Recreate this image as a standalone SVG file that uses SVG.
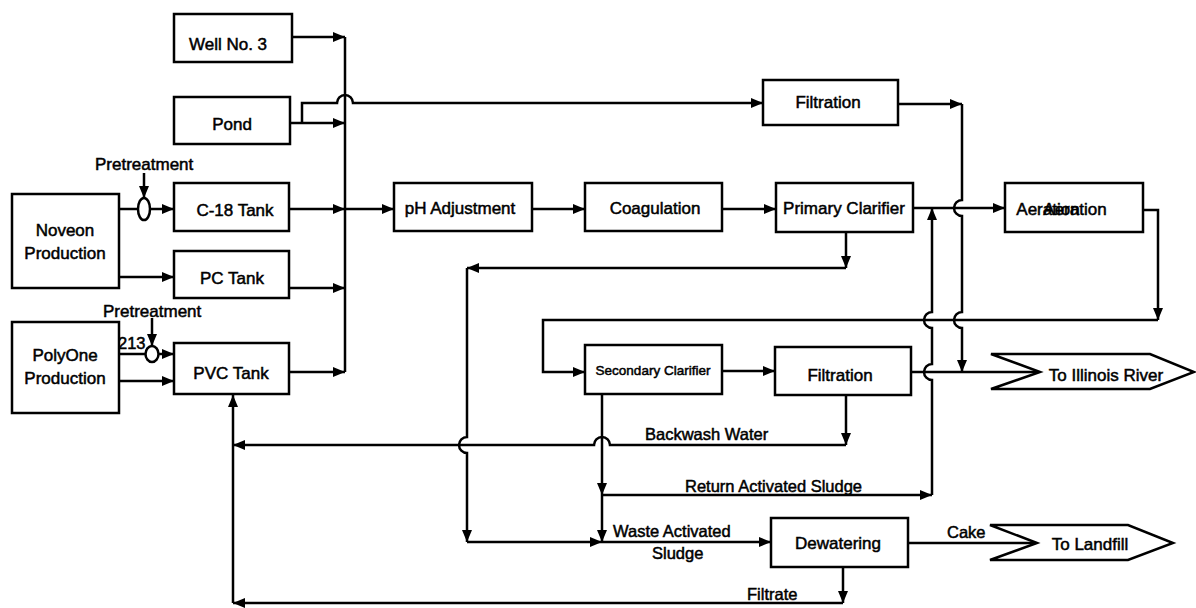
<svg xmlns="http://www.w3.org/2000/svg" width="1196" height="608" viewBox="0 0 1196 608">
<style>
.bx{fill:#fff;stroke:#000;stroke-width:2.5}
.ln{fill:none;stroke:#000;stroke-width:2.5}
.t{font-family:"Liberation Sans",Arial,sans-serif;font-size:17px;fill:#000;text-anchor:middle;stroke:#000;stroke-width:0.5}
.l{font-family:"Liberation Sans",Arial,sans-serif;font-size:16.5px;fill:#000;stroke:#000;stroke-width:0.5}
</style>
<defs>
<marker id="a" markerWidth="12" markerHeight="10" refX="12" refY="5" orient="auto" markerUnits="userSpaceOnUse"><path d="M0,0 L12,5 L0,10 z" fill="#000"/></marker>
</defs>
<rect width="1196" height="608" fill="#fff"/>
<g id="connectors" class="ln">
<path d="M292,37 H345" marker-end="url(#a)"/>
<path d="M345,37 V372"/>
<path d="M290,123 H345" marker-end="url(#a)"/>
<path d="M302,123 V103 H337 A8,8 0 0 1 353,103 H763" marker-end="url(#a)"/>
<path d="M119,209 H138"/>
<path d="M150,209 H174" marker-end="url(#a)"/>
<path d="M144,173 V198" marker-end="url(#a)"/>
<path d="M289,209 H345" marker-end="url(#a)"/>
<path d="M345,209 H394" marker-end="url(#a)"/>
<path d="M119,277 H174" marker-end="url(#a)"/>
<path d="M289,288 H345" marker-end="url(#a)"/>
<path d="M119,354 H146"/>
<path d="M159,354 H174" marker-end="url(#a)"/>
<path d="M152,318 V346" marker-end="url(#a)"/>
<path d="M119,381 H174" marker-end="url(#a)"/>
<path d="M289,372 H345" marker-end="url(#a)"/>
<path d="M532,209 H585" marker-end="url(#a)"/>
<path d="M722,209 H776" marker-end="url(#a)"/>
<path d="M913,208 H1005" marker-end="url(#a)"/>
<path d="M898,104 H962" marker-end="url(#a)"/>
<path d="M962,104 V200 A8,8 0 0 0 962,216 V312 A8,8 0 0 0 962,328 V372" marker-end="url(#a)"/>
<path d="M1143,210 H1158 V320" marker-end="url(#a)"/>
<path d="M1158,320 H543 V372 H585" marker-end="url(#a)"/>
<path d="M722,371 H775" marker-end="url(#a)"/>
<path d="M911,372 H1040"/>
<path d="M602,495 H932" marker-end="url(#a)"/>
<path d="M932,495 V380 A8,8 0 0 1 932,364 V328 A8,8 0 0 1 932,312 V208" marker-end="url(#a)"/>
<path d="M846,232 V268" marker-end="url(#a)"/>
<path d="M846,268 H467" marker-end="url(#a)"/>
<path d="M467,268 V437 A8,8 0 0 0 467,453 V542" marker-end="url(#a)"/>
<path d="M467,542 H602" marker-end="url(#a)"/>
<path d="M602,394 V495" marker-end="url(#a)"/>
<path d="M602,495 V542" marker-end="url(#a)"/>
<path d="M602,542 H771" marker-end="url(#a)"/>
<path d="M846,395 V445" marker-end="url(#a)"/>
<path d="M846,445 H610 A8,8 0 0 0 594,445 H233" marker-end="url(#a)"/>
<path d="M908,543 H1037"/>
<path d="M843,567 V603" marker-end="url(#a)"/>
<path d="M843,603 H233" marker-end="url(#a)"/>
<path d="M233,603 V395" marker-end="url(#a)"/>
<ellipse cx="144" cy="209" rx="6" ry="11"/>
<ellipse cx="152" cy="354" rx="6.5" ry="8"/>
</g>
<g id="well"><rect class="bx" x="174" y="14" width="118" height="48"/><text class="t" x="228" y="50">Well No. 3</text></g>
<g id="pond"><rect class="bx" x="174" y="97" width="116" height="47"/><text class="t" x="232" y="130">Pond</text></g>
<g id="noveon"><rect class="bx" x="12" y="194" width="107" height="94"/><text class="t" x="65" y="236">Noveon</text><text class="t" x="65" y="259">Production</text></g>
<g id="c18"><rect class="bx" x="174" y="183" width="115" height="48"/><text class="t" x="235" y="216">C-18 Tank</text></g>
<g id="pc"><rect class="bx" x="174" y="251" width="115" height="47"/><text class="t" x="232" y="284">PC Tank</text></g>
<g id="polyone"><rect class="bx" x="12" y="322" width="107" height="91"/><text class="t" x="65" y="361">PolyOne</text><text class="t" x="65" y="384">Production</text></g>
<g id="pvc"><rect class="bx" x="174" y="343" width="115" height="51"/><text class="t" x="231" y="379">PVC Tank</text></g>
<g id="ph"><rect class="bx" x="394" y="183" width="138" height="48"/><text class="t" x="460" y="214">pH Adjustment</text></g>
<g id="coag"><rect class="bx" x="585" y="183" width="137" height="48"/><text class="t" x="655" y="214">Coagulation</text></g>
<g id="primary"><rect class="bx" x="776" y="183" width="137" height="49"/><text class="t" x="844" y="214">Primary Clarifier</text></g>
<g id="filtration1"><rect class="bx" x="763" y="80" width="135" height="45"/><text class="t" x="828" y="108">Filtration</text></g>
<g id="aeration"><rect class="bx" x="1005" y="183" width="138" height="49"/><text class="t" x="1048" y="215">Aeration</text><text class="t" x="1075" y="215">Aeration</text></g>
<g id="secondary"><rect class="bx" x="585" y="345" width="137" height="49"/><text class="t" x="653" y="375" style="font-size:13.5px">Secondary Clarifier</text></g>
<g id="filtration2"><rect class="bx" x="775" y="347" width="136" height="48"/><text class="t" x="840" y="381">Filtration</text></g>
<g id="dewatering"><rect class="bx" x="771" y="518" width="137" height="49"/><text class="t" x="838" y="549">Dewatering</text></g>
<g id="river"><polygon class="bx" points="991,354 1150,354 1194,372 1150,389 991,389 1040,372"/><text class="t" x="1106" y="381">To Illinois River</text></g>
<g id="landfill"><polygon class="bx" points="990,525 1128,525 1173,543 1128,560 990,560 1037,543"/><text class="t" x="1090" y="550">To Landfill</text></g>
<g id="labels">
<text class="l" x="95" y="170" style="font-size:17px">Pretreatment</text>
<text class="l" x="103" y="317" style="font-size:17px">Pretreatment</text>
<text class="l" x="118" y="349">213</text>
<text class="l" x="645" y="440">Backwash Water</text>
<text class="l" x="685" y="492">Return Activated Sludge</text>
<text class="l" x="613" y="537">Waste Activated</text>
<text class="l" x="652" y="559">Sludge</text>
<text class="l" x="947" y="538">Cake</text>
<text class="l" x="747" y="600">Filtrate</text>
</g>
</svg>
